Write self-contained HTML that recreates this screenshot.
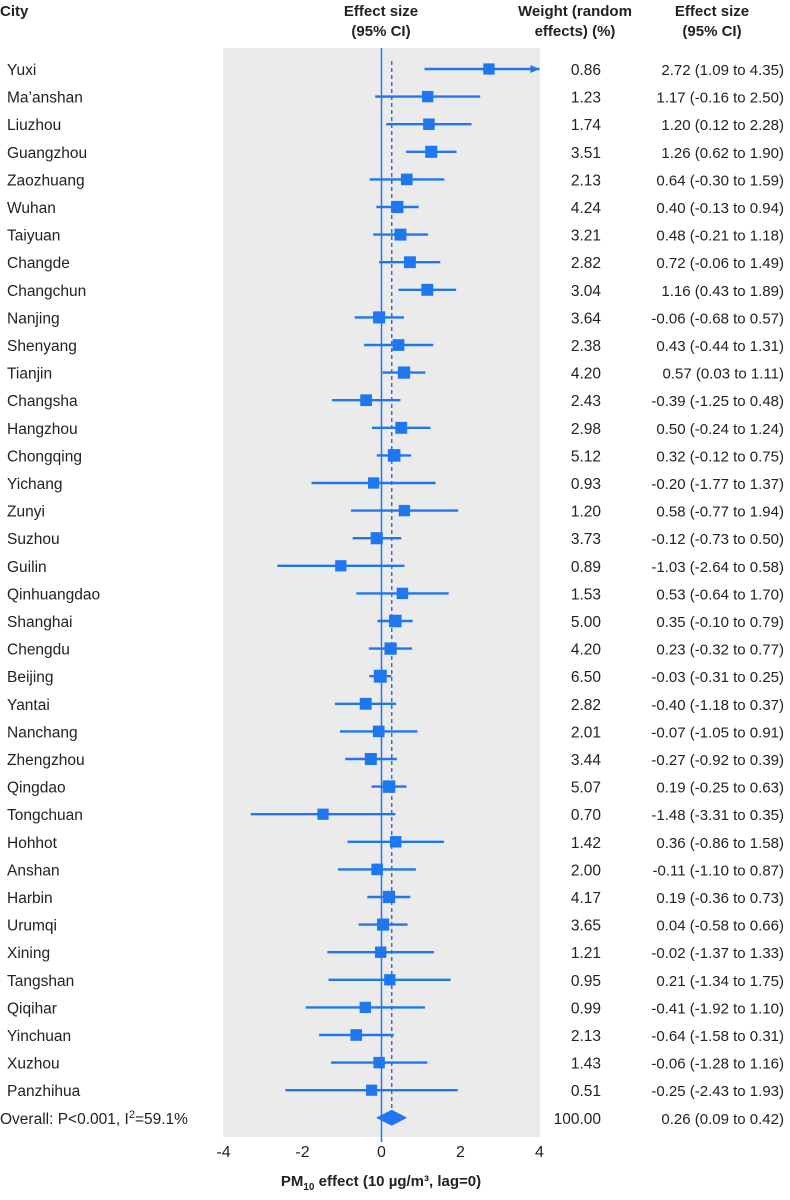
<!DOCTYPE html>
<html><head><meta charset="utf-8">
<style>
html,body{margin:0;padding:0;background:#fff;}
body{width:790px;height:1195px;overflow:hidden;font-family:"Liberation Sans Narrow","Liberation Sans",sans-serif;}
svg text{font-family:"Liberation Sans Narrow","Liberation Sans",sans-serif;fill:#222;}
</style></head><body>
<svg id="chart" width="790" height="1195" viewBox="0 0 790 1195" xmlns="http://www.w3.org/2000/svg">
<g id="hdr" font-weight="bold" font-size="15">
<text x="0" y="16">City</text>
<text x="381" y="16" text-anchor="middle">Effect size</text>
<text x="381" y="36" text-anchor="middle">(95% CI)</text>
<text x="575" y="16" text-anchor="middle">Weight (random</text>
<text x="575" y="36" text-anchor="middle">effects) (%)</text>
<text x="712" y="16" text-anchor="middle">Effect size</text>
<text x="712" y="36" text-anchor="middle">(95% CI)</text>
</g>
<rect x="223" y="48" width="317" height="1089" fill="#ebebeb"/>
<g id="marks"></g>
</svg>
<script>
const cities=["Yuxi","Ma’anshan","Liuzhou","Guangzhou","Zaozhuang","Wuhan","Taiyuan","Changde","Changchun","Nanjing","Shenyang","Tianjin","Changsha","Hangzhou","Chongqing","Yichang","Zunyi","Suzhou","Guilin","Qinhuangdao","Shanghai","Chengdu","Beijing","Yantai","Nanchang","Zhengzhou","Qingdao","Tongchuan","Hohhot","Anshan","Harbin","Urumqi","Xining","Tangshan","Qiqihar","Yinchuan","Xuzhou","Panzhihua"];
const est=[2.72,1.17,1.20,1.26,0.64,0.40,0.48,0.72,1.16,-0.06,0.43,0.57,-0.39,0.50,0.32,-0.20,0.58,-0.12,-1.03,0.53,0.35,0.23,-0.03,-0.40,-0.07,-0.27,0.19,-1.48,0.36,-0.11,0.19,0.04,-0.02,0.21,-0.41,-0.64,-0.06,-0.25];
const lower=[1.09,-0.16,0.12,0.62,-0.30,-0.13,-0.21,-0.06,0.43,-0.68,-0.44,0.03,-1.25,-0.24,-0.12,-1.77,-0.77,-0.73,-2.64,-0.64,-0.10,-0.32,-0.31,-1.18,-1.05,-0.92,-0.25,-3.31,-0.86,-1.10,-0.36,-0.58,-1.37,-1.34,-1.92,-1.58,-1.28,-2.43];
const upper=[4.35,2.50,2.28,1.90,1.59,0.94,1.18,1.49,1.89,0.57,1.31,1.11,0.48,1.24,0.75,1.37,1.94,0.50,0.58,1.70,0.79,0.77,0.25,0.37,0.91,0.39,0.63,0.35,1.58,0.87,0.73,0.66,1.33,1.75,1.10,0.31,1.16,1.93];
const weights=["0.86","1.23","1.74","3.51","2.13","4.24","3.21","2.82","3.04","3.64","2.38","4.20","2.43","2.98","5.12","0.93","1.20","3.73","0.89","1.53","5.00","4.20","6.50","2.82","2.01","3.44","5.07","0.70","1.42","2.00","4.17","3.65","1.21","0.95","0.99","2.13","1.43","0.51"];
const overall={est:0.26,lo:0.09,hi:0.42,weight:"100.00",label:"Overall: P<0.001, I"};
const ticks=[-4,-2,0,2,4];
const NS="http://www.w3.org/2000/svg";
const X0=381.5,UNIT=39.5,XMIN=-4,XMAX=4;
const x=v=>X0+v*UNIT;
const y=i=>69+i*27.6;
const g=document.getElementById('marks');
function mk(t,a,txt){const e=document.createElementNS(NS,t);for(const k in a)e.setAttribute(k,a[k]);if(txt!==undefined)e.textContent=txt;g.appendChild(e);return e;}
const blue="#1f77f0";
let zl=mk('line',{x1:x(0),x2:x(0),y1:48,y2:1142,stroke:blue,'stroke-width':1.5});


let dl=mk('line',{x1:x(overall.est),x2:x(overall.est),y1:y(0)-8,y2:y(cities.length),stroke:"#1f5bb5",'stroke-width':1.3,'stroke-dasharray':'4,3'});


cities.forEach((c,i)=>{
  const yy=y(i);
  let t=mk('text',{x:7,y:yy+6,'font-size':15.5},c);
  
  
  const hi=Math.min(upper[i],XMAX),lo=Math.max(lower[i],XMIN);
  let l=mk('line',{x1:x(lo),x2:x(hi),y1:yy,y2:yy,stroke:blue,'stroke-width':2.4});
  
  
  if(upper[i]>XMAX){
    let a=mk('polygon',{points:`${x(XMAX)},${yy} ${x(XMAX)-9},${yy-4} ${x(XMAX)-9},${yy+4}`,fill:blue});
    
    
  }
  const s=11+parseFloat(weights[i])*0.3;
  let r=mk('rect',{x:x(est[i])-s/2,y:yy-s/2,width:s,height:s,fill:blue});
  
  
  let w=mk('text',{x:601,y:yy+6,'font-size':15.5,'text-anchor':'end'},weights[i]);
  
  
  let e=mk('text',{x:784,y:yy+6,'font-size':15,'text-anchor':'end'},`${est[i].toFixed(2)} (${lower[i].toFixed(2)} to ${upper[i].toFixed(2)})`);
  
  
});
const oy=y(cities.length);
let ot=mk('text',{x:0,y:oy+6,'font-size':15.5},overall.label);


const sup=document.createElementNS(NS,'tspan');sup.setAttribute('font-size','11');sup.setAttribute('dy','-6');sup.textContent='2';ot.appendChild(sup);
const rest=document.createElementNS(NS,'tspan');rest.setAttribute('dy','6');rest.textContent='=59.1%';ot.appendChild(rest);
let dia=mk('polygon',{points:`${x(overall.lo)-9},${oy} ${x(overall.est)},${oy-8} ${x(overall.hi)+9},${oy} ${x(overall.est)},${oy+8}`,fill:blue});


let ow=mk('text',{x:601,y:oy+6,'font-size':15.5,'text-anchor':'end'},overall.weight);


let oe=mk('text',{x:784,y:oy+6,'font-size':15,'text-anchor':'end'},`${overall.est.toFixed(2)} (${overall.lo.toFixed(2)} to ${overall.hi.toFixed(2)})`);


ticks.forEach(v=>{
  let t=mk('text',{x:x(v),y:1157,'font-size':16,'text-anchor':'middle'},String(v));
  
  
});
let xt=mk('text',{x:381,y:1186,'font-size':15,'font-weight':'bold','text-anchor':'middle'},'PM');


const sb=document.createElementNS(NS,'tspan');sb.setAttribute('font-size','10');sb.setAttribute('dy','4');sb.textContent='10';xt.appendChild(sb);
const tr=document.createElementNS(NS,'tspan');tr.setAttribute('dy','-4');tr.textContent=' effect (10 µg/m³, lag=0)';xt.appendChild(tr);
</script>
</body></html>
